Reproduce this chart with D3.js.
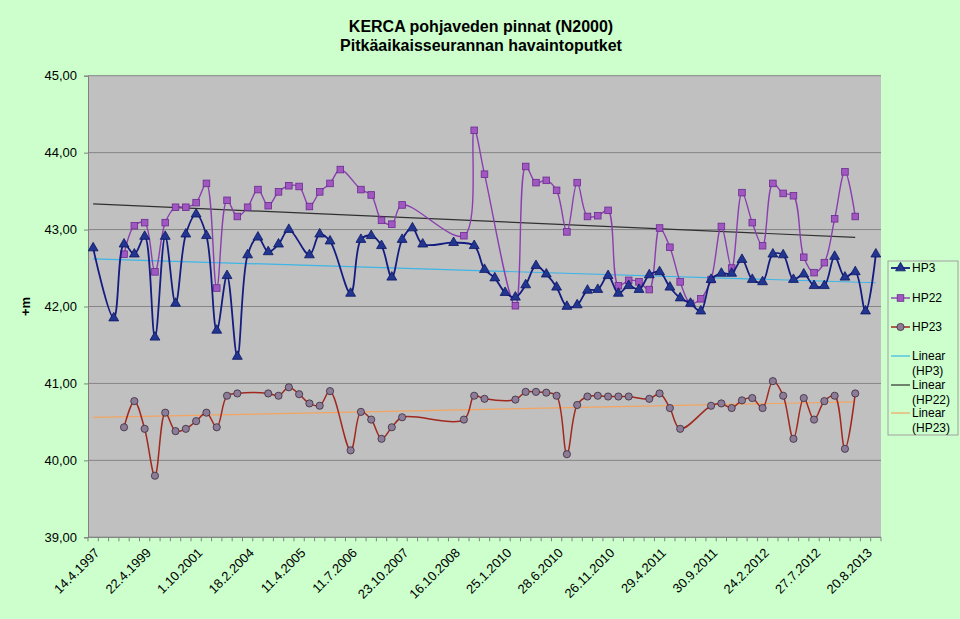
<!DOCTYPE html>
<html>
<head>
<meta charset="utf-8">
<script src="https://cdn.jsdelivr.net/npm/d3@7"></script>
<style>
  html, body { margin: 0; padding: 0; background: #CCFFCC; }
  svg { display: block; font-family: "Liberation Sans", Arial, sans-serif; }
</style>
</head>
<body>
<svg id="chart" width="960" height="619"></svg>
<script>
// ---- data ----
const categoryCount = 77;
const tickLabels = ["14.4.1997","22.4.1999","1.10.2001","18.2.2004","11.4.2005","11.7.2006",
  "23.10.2007","16.10.2008","25.1.2010","28.6.2010","26.11.2010","29.4.2011","30.9.2011",
  "24.2.2012","27.7.2012","20.8.2013"];
const tickEvery = 5;
const yTicks = [39, 40, 41, 42, 43, 44, 45];

const hp3 = [42.76,null,41.85,42.81,42.68,42.91,41.60,42.91,42.04,42.94,
  43.20,42.92,41.69,42.40,41.35,42.67,42.90,42.71,42.81,43.00,
  null,42.67,42.94,42.85,null,42.17,42.87,42.92,42.79,42.38,
  42.87,43.02,42.81,null,null,42.83,null,42.79,42.48,42.37,
  42.18,42.12,42.28,42.53,42.42,42.25,42.00,42.02,42.21,42.22,
  42.40,42.17,42.27,42.22,42.41,42.45,42.25,42.11,42.04,41.94,
  42.35,42.43,42.43,42.61,42.35,42.32,42.68,42.67,42.35,42.42,
  42.27,42.27,42.65,42.38,42.45,41.94,42.68];
const hp22 = [null,null,null,42.68,43.05,43.09,42.45,43.09,43.29,43.29,
  43.35,43.60,42.24,43.38,43.17,43.29,43.52,43.31,43.49,43.57,
  43.56,43.30,43.49,43.60,43.78,null,43.52,43.45,43.12,43.07,
  43.32,null,null,null,null,null,42.92,44.29,43.72,null,
  null,42.01,43.82,43.61,43.64,43.51,42.97,43.61,43.17,43.18,
  43.25,42.27,42.34,42.32,42.22,43.02,42.77,42.32,42.04,42.10,
  42.35,43.04,42.50,43.48,43.09,42.79,43.60,43.47,43.44,42.64,
  42.44,42.57,43.14,43.75,43.17,null,null];
const hp23 = [null,null,null,40.43,40.77,40.41,39.80,40.62,40.38,40.41,
  40.51,40.62,40.43,40.84,40.87,null,null,40.87,40.84,40.95,
  40.86,40.74,40.71,40.90,null,40.13,40.63,40.53,40.28,40.43,
  40.56,null,null,null,null,null,40.53,40.84,40.80,null,
  null,40.79,40.89,40.89,40.88,40.84,40.08,40.72,40.83,40.84,
  40.83,40.83,40.83,null,40.80,40.87,40.68,40.41,null,null,
  40.71,40.74,40.68,40.78,40.81,40.68,41.03,40.84,40.28,40.81,
  40.53,40.77,40.84,40.15,40.87,null,null];

const seriesNames = ["HP3", "HP22", "HP23"];
const trendNames = ["Linear (HP3)", "Linear (HP22)", "Linear (HP23)"];

// ---- layout ----
const svg = d3.select("#chart");
const W = 960, H = 619;
const plot = { left: 88, right: 881, top: 75.7, bottom: 537.3 };

svg.append("rect").attr("width", W).attr("height", H).attr("fill", "#CCFFCC");

const x = d3.scaleBand().domain(d3.range(categoryCount)).range([plot.left, plot.right]).paddingInner(0).paddingOuter(0);
const cx = i => x(i) + x.bandwidth() / 2;
const y = d3.scaleLinear().domain([39, 45]).range([plot.bottom, plot.top]);
const fmt = v => d3.format(".2f")(v).replace(".", ",");

// plot area
svg.append("rect")
  .attr("x", plot.left).attr("y", plot.top)
  .attr("width", plot.right - plot.left).attr("height", plot.bottom - plot.top)
  .attr("fill", "#C0C0C0");

// gridlines
svg.append("g").selectAll("line").data(yTicks).join("line")
  .attr("x1", plot.left).attr("x2", plot.right)
  .attr("y1", d => y(d)).attr("y2", d => y(d))
  .attr("stroke", "#858585").attr("stroke-width", 1);

// y axis
const yAxis = svg.append("g").attr("transform", `translate(${plot.left},0)`)
  .call(d3.axisLeft(y).tickValues(yTicks).tickFormat(fmt).tickSize(4).tickPadding(7));
yAxis.select(".domain").attr("stroke", "#808080");
yAxis.selectAll(".tick line").attr("stroke", "#808080");
yAxis.selectAll("text").attr("font-size", 13).attr("fill", "#000")
  .attr("font-family", "Liberation Sans, Arial, sans-serif");

// x axis line and tick marks (between categories)
svg.append("line").attr("x1", plot.left).attr("x2", plot.right)
  .attr("y1", plot.bottom).attr("y2", plot.bottom).attr("stroke", "#808080");
const bounds = d3.range(categoryCount).map(i => x(i)).concat([x.range()[1]]);
svg.append("g").selectAll("line").data(bounds).join("line")
  .attr("x1", d => d).attr("x2", d => d)
  .attr("y1", plot.bottom).attr("y2", plot.bottom + 4)
  .attr("stroke", "#808080");

// x labels
svg.append("g").selectAll("text").data(tickLabels).join("text")
  .attr("transform", (d, k) => `translate(${cx(k * tickEvery) + 4},${plot.bottom + 13}) rotate(-45)`)
  .attr("text-anchor", "end").attr("dy", "0.35em")
  .attr("font-size", 13).attr("fill", "#000")
  .text(d => d);

// titles
svg.append("text").attr("x", 481).attr("y", 32).attr("text-anchor", "middle")
  .attr("font-size", 16).attr("font-weight", "bold").text("KERCA pohjaveden pinnat (N2000)");
svg.append("text").attr("x", 481).attr("y", 51).attr("text-anchor", "middle")
  .attr("font-size", 16).attr("font-weight", "bold").text("Pitkäaikaisseurannan havaintoputket");
svg.append("text").attr("transform", `translate(30,${y(42)}) rotate(-90)`)
  .attr("text-anchor", "middle").attr("font-size", 13).attr("font-weight", "bold").text("+m");

// ---- trendlines (least squares over category index) ----
function trend(vals) {
  const pts = vals.map((v, i) => [i, v]).filter(p => p[1] != null);
  const n = pts.length;
  const mx = d3.mean(pts, p => p[0]), my = d3.mean(pts, p => p[1]);
  const b = d3.sum(pts, p => (p[0] - mx) * (p[1] - my)) / d3.sum(pts, p => (p[0] - mx) ** 2);
  const a = my - b * mx;
  const last = pts[n - 1][0];
  return [[0, a], [last, a + b * last]];
}

const styles = [
  { vals: hp3, line: "#141C80", lw: 1.8, fill: "#22358F", stroke: "#0D1766", marker: "tri", trend: "#3DB5E6" },
  { vals: hp22, line: "#8A3FB0", lw: 1.4, fill: "#A058C0", stroke: "#6A2A90", marker: "sq", trend: "#303030" },
  { vals: hp23, line: "#A0281E", lw: 1.5, fill: "#8C7C98", stroke: "#3A2A3A", marker: "circ", trend: "#F4A460" }
];

const gTrend = svg.append("g");
styles.forEach(s => {
  const t = trend(s.vals);
  gTrend.append("line")
    .attr("x1", cx(t[0][0])).attr("y1", y(t[0][1]))
    .attr("x2", cx(t[1][0])).attr("y2", y(t[1][1]))
    .attr("stroke", s.trend).attr("stroke-width", 1.2);
});

const line = d3.line().x(d => cx(d.i)).y(d => y(d.v)).curve(d3.curveCatmullRom.alpha(0.5));

function drawMarker(g, type, fill, stroke) {
  if (type === "tri") {
    g.append("path").attr("d", d3.symbol(d3.symbolTriangle, 42)()).attr("fill", fill).attr("stroke", stroke).attr("stroke-width", 0.8);
  } else if (type === "sq") {
    g.append("rect").attr("x", -3.3).attr("y", -3.3).attr("width", 6.6).attr("height", 6.6)
      .attr("fill", fill).attr("stroke", stroke).attr("stroke-width", 0.8);
  } else {
    g.append("circle").attr("r", 3.6).attr("fill", fill).attr("stroke", stroke).attr("stroke-width", 0.8);
  }
}

// draw series: HP23 first, then HP22, then HP3 on top
[2, 1, 0].forEach(k => {
  const s = styles[k];
  const pts = s.vals.map((v, i) => ({ i, v })).filter(d => d.v != null);
  const g = svg.append("g");
  g.append("path").datum(pts).attr("d", line)
    .attr("fill", "none").attr("stroke", s.line).attr("stroke-width", s.lw);
  g.selectAll("g.m").data(pts).join("g").attr("class", "m")
    .attr("transform", d => `translate(${cx(d.i)},${y(d.v)})`)
    .each(function () { drawMarker(d3.select(this), s.marker, s.fill, s.stroke); });
});

// ---- legend ----
const lg = svg.append("g");
lg.append("rect").attr("x", 888).attr("y", 261).attr("width", 70).attr("height", 174)
  .attr("fill", "#CCFFCC").attr("stroke", "#A0A0A0").attr("stroke-width", 1);
const legendRows = [
  { lines: ["HP3"], cy: 268, s: styles[0], type: "series" },
  { lines: ["HP22"], cy: 298, s: styles[1], type: "series" },
  { lines: ["HP23"], cy: 327, s: styles[2], type: "series" },
  { lines: ["Linear", "(HP3)"], cy: 356, s: styles[0], type: "trend" },
  { lines: ["Linear", "(HP22)"], cy: 385, s: styles[1], type: "trend" },
  { lines: ["Linear", "(HP23)"], cy: 413, s: styles[2], type: "trend" }
];
const labelsFull = seriesNames.concat(trendNames);
legendRows.forEach((r, k) => {
  const g = lg.append("g");
  if (r.type === "series") {
    g.append("line").attr("x1", 891).attr("x2", 910).attr("y1", r.cy).attr("y2", r.cy)
      .attr("stroke", r.s.line).attr("stroke-width", r.s.lw);
    const mg = g.append("g").attr("transform", `translate(900.5,${r.cy})`);
    drawMarker(mg, r.s.marker, r.s.fill, r.s.stroke);
  } else {
    g.append("line").attr("x1", 891).attr("x2", 910).attr("y1", r.cy).attr("y2", r.cy)
      .attr("stroke", r.s.trend).attr("stroke-width", 1.2);
  }
  const t = g.append("text").attr("x", 912).attr("font-size", 12).attr("fill", "#000");
  r.lines.forEach((ln, j) => {
    t.append("tspan").attr("x", 912).attr("y", r.cy + 4.3 + j * 14.2).text(ln);
  });
  t.attr("data-label", labelsFull[k]);
});
</script>
</body>
</html>
